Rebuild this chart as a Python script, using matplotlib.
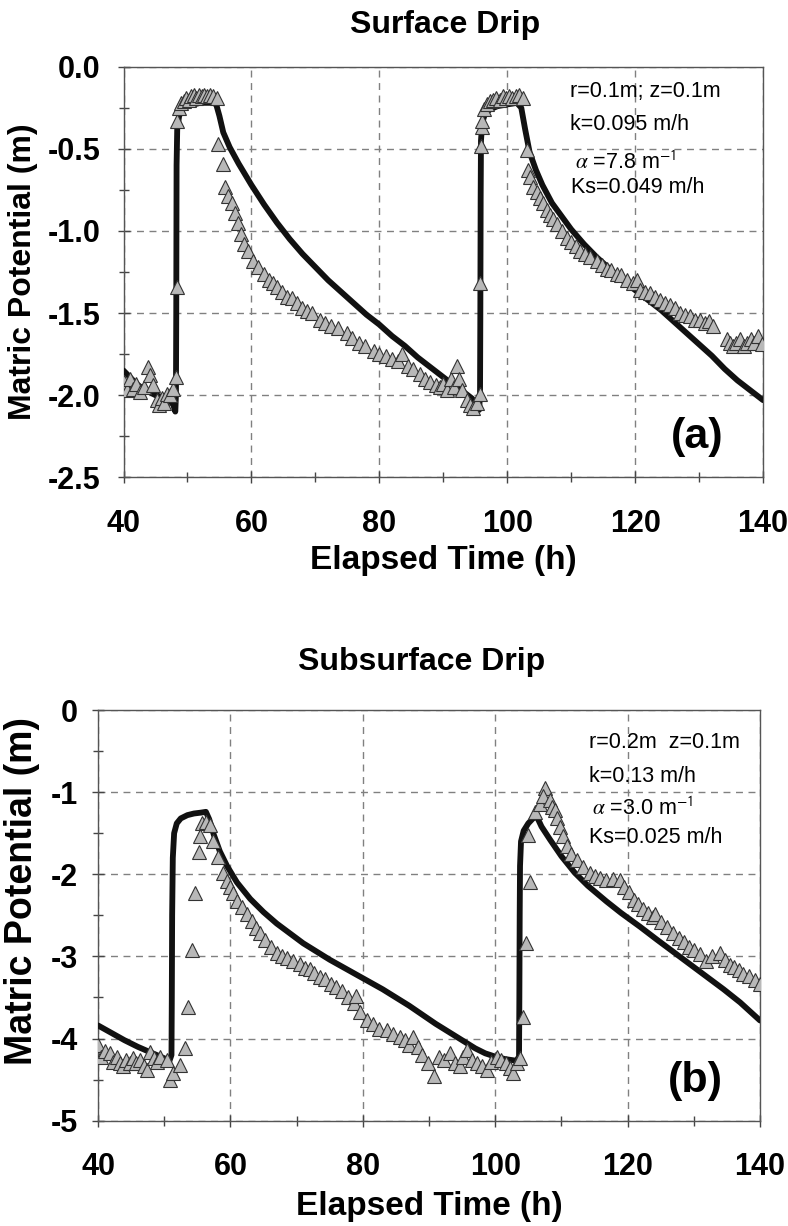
import matplotlib
matplotlib.use("Agg")
import matplotlib.pyplot as plt
from matplotlib.ticker import MultipleLocator, FormatStrFormatter

plt.rcParams.update({
    "font.family": ["Liberation Sans", "DejaVu Sans"],
    "axes.unicode_minus": False,
    "mathtext.fontset": "stix",
})

# ---- (a) Surface drip: measured matric potential (triangles)
surf_obs_t = [40.0, 40.5, 41.0, 41.5, 42.0, 42.6, 43.2, 43.9, 44.2, 44.6, 45.2, 45.6, 46.0, 46.4,
              46.8, 47.3, 47.7, 48.2, 48.3, 48.4, 48.7, 49.0, 49.4, 49.8, 50.2, 50.6, 51.0, 51.4,
              51.8, 52.2, 52.6, 53.0, 53.5, 54.0, 54.6, 54.8, 55.6, 55.9, 56.4, 56.9, 57.4, 57.9,
              58.4, 58.9, 59.5, 60.3, 61.1, 61.9, 62.8, 63.4, 64.0, 64.8, 65.6, 66.3, 67.1, 67.9,
              68.7, 69.5, 70.7, 71.5, 72.5, 73.5, 74.9, 75.8, 76.8, 77.8, 79.1, 80.0, 81.0, 82.0,
              83.0, 83.5, 84.5, 85.3, 86.4, 87.2, 88.0, 88.8, 89.5, 90.0, 90.6, 91.2, 91.7, 92.1,
              92.5, 93.0, 93.7, 94.2, 94.7, 95.2, 95.7, 95.8, 95.9, 96.0, 96.1, 96.4, 96.8, 97.3,
              97.8, 98.3, 98.8, 99.3, 99.8, 100.3, 100.8, 101.3, 101.8, 102.5, 103.1, 103.3, 103.6,
              104.1, 104.6, 105.1, 105.6, 106.2, 106.7, 107.2, 107.8, 108.5, 109.3, 110.0, 110.7,
              111.4, 112.2, 113.0, 114.0, 114.8, 115.6, 116.3, 117.1, 117.8, 118.7, 119.6, 120.3,
              120.8, 121.6, 122.4, 123.1, 123.9, 124.7, 125.5, 126.2, 127.0, 127.8, 128.6, 129.4,
              130.2, 131.0, 131.6, 132.2, 134.3, 134.8, 135.3, 135.8, 136.4, 137.0, 137.5, 138.1,
              138.6, 139.2, 139.8]
surf_obs_h = [-1.92, -1.97, -1.90, -1.96, -1.93, -1.98, -1.95, -1.83, -1.88, -1.94, -2.03, -2.06, -2.02, -2.05,
              -1.99, -2.00, -1.96, -1.89, -1.34, -0.33, -0.25, -0.22, -0.21, -0.19, -0.20, -0.18, -0.17, -0.19,
              -0.17, -0.18, -0.17, -0.18, -0.17, -0.18, -0.19, -0.47, -0.59, -0.73, -0.79, -0.83, -0.89, -0.95,
              -1.02, -1.08, -1.12, -1.18, -1.22, -1.26, -1.30, -1.32, -1.34, -1.37, -1.40, -1.41, -1.44, -1.47,
              -1.49, -1.50, -1.54, -1.56, -1.58, -1.59, -1.62, -1.65, -1.68, -1.70, -1.73, -1.75, -1.76, -1.78,
              -1.79, -1.75, -1.82, -1.84, -1.87, -1.90, -1.92, -1.94, -1.95, -1.93, -1.97, -1.90, -1.95, -1.82,
              -1.90, -1.97, -2.03, -2.06, -2.08, -2.05, -1.99, -1.32, -0.48, -0.37, -0.33, -0.26, -0.23, -0.21,
              -0.20, -0.19, -0.20, -0.18, -0.19, -0.18, -0.19, -0.18, -0.17, -0.19, -0.51, -0.63, -0.67,
              -0.73, -0.76, -0.80, -0.83, -0.87, -0.90, -0.93, -0.96, -1.00, -1.04, -1.07, -1.09,
              -1.12, -1.14, -1.16, -1.18, -1.21, -1.23, -1.24, -1.26, -1.27, -1.30, -1.32, -1.30,
              -1.36, -1.37, -1.38, -1.40, -1.42, -1.44, -1.45, -1.47, -1.50, -1.51, -1.52, -1.54,
              -1.54, -1.56, -1.55, -1.58, -1.66, -1.68, -1.70, -1.68, -1.66, -1.70, -1.68, -1.66,
              -1.68, -1.64, -1.69]

# ---- (a) Surface drip: simulated curve
surf_mod_t = [40, 41, 42, 43, 44, 45, 46, 47, 47.8, 48.1, 48.2, 48.25, 48.3, 48.4, 48.7, 49.2, 50, 51,
              52, 53, 54, 54.5, 55.0, 55.6, 56.6, 58, 60, 62, 64, 66, 68, 70, 72, 74, 76, 78, 80, 82,
              84, 86, 88, 90, 92, 93.5, 94.5, 95.3, 95.6, 95.75, 95.8, 95.85, 95.9, 96.1, 96.5, 97.3,
              98.5, 100, 101.5, 102.2, 102.8, 103.5, 104.5, 105.5, 107, 108.5, 110, 112, 114, 116,
              118, 120, 122, 124, 126, 128, 130, 132, 134, 136, 138, 140]
surf_mod_h = [-1.85, -1.89, -1.93, -1.96, -1.98, -2.00, -2.01, -2.02, -2.06, -2.10, -2.00, -1.50, -0.60,
              -0.38, -0.30, -0.26, -0.24, -0.23, -0.22, -0.22, -0.22, -0.23, -0.30, -0.40, -0.49, -0.59,
              -0.72, -0.84, -0.95, -1.05, -1.14, -1.22, -1.30, -1.37, -1.44, -1.51, -1.57, -1.64, -1.70,
              -1.77, -1.83, -1.89, -1.95, -1.99, -2.02, -2.06, -2.09, -2.00, -1.50, -0.80, -0.45, -0.34,
              -0.29, -0.26, -0.24, -0.23, -0.22, -0.25, -0.38, -0.52, -0.63, -0.72, -0.83, -0.91, -0.99,
              -1.08, -1.16, -1.23, -1.30, -1.36, -1.42, -1.48, -1.55, -1.62, -1.69, -1.76, -1.84, -1.91,
              -1.97, -2.03]

# ---- (b) Subsurface drip: measured
sub_obs_t = [40.0, 40.5, 41.0, 41.8, 42.3, 42.8, 43.3, 43.8, 44.3, 44.8, 45.3, 45.8, 46.3, 46.9, 47.4,
             47.9, 48.4, 48.9, 49.4, 50.4, 50.9, 51.4, 52.4, 53.1, 53.6, 54.2, 54.7, 55.2, 55.4, 55.7,
             56.3, 56.9, 57.4, 58.2, 58.9, 59.5, 60.0, 60.4, 61.0, 61.7, 62.5, 63.2, 63.9, 64.5, 65.3,
             66.1, 67.0, 67.8, 68.6, 69.4, 70.5, 71.3, 72.0, 72.7, 73.5, 74.3, 75.2, 76.0, 76.8, 77.7,
             78.6, 78.9, 79.6, 80.6, 81.5, 82.5, 83.6, 84.5, 85.6, 86.3, 87.0, 87.6, 88.3, 89.0, 89.8,
             90.7, 91.5, 92.3, 93.2, 94.0, 94.7, 95.2, 95.7, 96.5, 97.3, 98.0, 98.7, 99.4, 100.2, 100.9,
             101.6, 102.2, 102.7, 103.3, 103.7, 104.2, 104.7, 105.3, 105.0, 106.0, 106.8, 107.5, 107.2,
             108.3, 108.6, 109.0, 109.4, 109.8, 110.3, 110.8, 111.5, 112.3, 113.3, 114.3, 115.0, 115.8,
             116.8, 117.8, 118.9, 119.5, 120.2, 120.9, 121.6, 122.3, 123.1, 123.9, 124.2, 125.0, 125.9,
             126.9, 127.7, 128.5, 129.3, 130.0, 130.9, 131.9, 132.7, 133.9, 134.7, 135.4, 136.0, 136.8,
             137.5, 138.3, 139.2, 140.0]
sub_obs_h = [-4.08, -4.22, -4.15, -4.18, -4.28, -4.22, -4.30, -4.34, -4.26, -4.30, -4.24, -4.30, -4.26, -4.34, -4.38,
             -4.16, -4.24, -4.28, -4.22, -4.26, -4.51, -4.42, -4.32, -4.12, -3.61, -2.92, -2.23, -1.73, -1.54, -1.38,
             -1.36, -1.40, -1.60, -1.79, -1.99, -2.08, -2.16, -2.23, -2.32, -2.40, -2.48, -2.57, -2.65, -2.72, -2.80,
             -2.88, -2.96, -3.00, -3.02, -3.06, -3.09, -3.14, -3.15, -3.20, -3.25, -3.28, -3.33, -3.37, -3.42, -3.50,
             -3.57, -3.48, -3.68, -3.78, -3.82, -3.88, -3.90, -3.94, -3.98, -4.02, -4.08, -3.98, -4.10, -4.20, -4.30,
             -4.45, -4.22, -4.26, -4.18, -4.30, -4.34, -4.22, -4.14, -4.26, -4.30, -4.34, -4.38, -4.28, -4.22, -4.26,
             -4.30, -4.36, -4.42, -4.30, -4.24, -3.74, -2.84, -2.09, -1.52, -1.24, -1.14, -0.95, -1.05,
             -1.10, -1.18, -1.22, -1.32, -1.42, -1.54, -1.66, -1.75, -1.83, -1.91, -1.99, -2.02, -2.05,
             -2.07, -2.06, -2.07, -2.15, -2.22, -2.31, -2.36, -2.42, -2.47, -2.52, -2.48, -2.58, -2.64,
             -2.72, -2.77, -2.82, -2.88, -2.92, -2.97, -3.05, -3.00, -2.96, -3.04, -3.10, -3.13, -3.16,
             -3.21, -3.24, -3.29, -3.33]

# ---- (b) Subsurface drip: simulated
sub_mod_t = [40, 42, 44, 46, 48, 50, 50.8, 51.1, 51.15, 51.2, 51.3, 51.5, 51.9, 52.5, 53.5, 54.5, 55.5,
             56.3, 56.8, 57.5, 58.4, 59.5, 61, 63, 65, 67, 69, 71, 73, 75, 77, 79, 81, 83, 85, 87, 89,
             91, 93, 95, 97, 98.5, 100, 101.5, 103.2, 103.6, 103.65, 103.7, 103.75, 103.9, 104.3, 105,
             105.7, 106.3, 107, 108.3, 110, 112, 114, 116.8, 119, 121.9, 124.5, 127, 129.5, 132, 134.5,
             137, 140]
sub_mod_h = [-3.84, -3.93, -4.02, -4.10, -4.17, -4.24, -4.27, -4.20, -3.50, -2.50, -1.80, -1.50, -1.38, -1.32,
             -1.28, -1.26, -1.25, -1.24, -1.33, -1.52, -1.72, -1.90, -2.10, -2.30, -2.46, -2.60, -2.72, -2.84,
             -2.94, -3.04, -3.13, -3.22, -3.31, -3.40, -3.50, -3.60, -3.71, -3.82, -3.92, -4.02, -4.12, -4.18,
             -4.22, -4.25, -4.27, -4.22, -3.50, -2.50, -1.90, -1.60, -1.47, -1.38, -1.32, -1.30, -1.42, -1.58,
             -1.78, -1.98, -2.14, -2.33, -2.47, -2.64, -2.80, -2.95, -3.10, -3.25, -3.40, -3.56, -3.78]

surf_params = ["r=0.1m; z=0.1m", "k=0.095 m/h", r"$\alpha$ =7.8 m$^{\mathsf{-1}}$", "Ks=0.049 m/h"]
sub_params = ["r=0.2m  z=0.1m", "k=0.13 m/h", r"$\alpha$ =3.0 m$^{\mathsf{-1}}$", "Ks=0.025 m/h"]

W, H = 788, 1226
fig = plt.figure(figsize=(W / 100, H / 100), dpi=100)


def style_axes(ax, ylim, ymaj, ymin, yfmt, ytick_pad):
    ax.set_xlim(40, 140)
    ax.set_ylim(*ylim)
    ax.xaxis.set_major_locator(MultipleLocator(20))
    ax.xaxis.set_minor_locator(MultipleLocator(10))
    ax.yaxis.set_major_locator(MultipleLocator(ymaj))
    ax.yaxis.set_minor_locator(MultipleLocator(ymin))
    ax.yaxis.set_major_formatter(FormatStrFormatter(yfmt))
    ax.grid(True, which="major", color="#808080", linestyle=(0, (5, 4)), linewidth=1.0)
    for sp in ax.spines.values():
        sp.set_color("#555555")
        sp.set_linewidth(1.0)
    ax.tick_params(which="major", direction="inout", length=9, width=1, color="#444444",
                   labelsize=22)
    ax.tick_params(which="minor", direction="inout", length=7, width=1, color="#444444")
    ax.tick_params(axis="x", which="major", pad=18)
    ax.tick_params(axis="y", which="major", pad=ytick_pad)
    for lab in ax.get_xticklabels() + ax.get_yticklabels():
        lab.set_fontweight("bold")


def draw(ax, obs_t, obs_h, mod_t, mod_h):
    ax.plot(mod_t, mod_h, color="#111111", linewidth=4.2, zorder=3, solid_capstyle="round",
            solid_joinstyle="round")
    ax.plot(obs_t, obs_h, linestyle="none", marker="^", markersize=9.5, markerfacecolor="#b8b8b8",
            markeredgecolor="#333333", markeredgewidth=0.8, zorder=4)


# top panel
ax1 = fig.add_axes([123.5 / W, 1 - 477.3 / H, (763 - 123.5) / W, (477.3 - 66.7) / H])
draw(ax1, surf_obs_t, surf_obs_h, surf_mod_t, surf_mod_h)
style_axes(ax1, (-2.5, 0.0), 0.5, 0.25, "%.1f", 12)
ax1.set_xlabel("Elapsed Time (h)", fontsize=24, fontweight="bold")
ax1.xaxis.set_label_coords(0.5, (477.3 - 560) / 410.6)
ax1.xaxis.label.set_va("center")
ax1.set_ylabel("Matric Potential (m)", fontsize=23, fontweight="bold")
ax1.yaxis.set_label_coords((23 - 123.5) / 639.5, 0.5)
ax1.yaxis.label.set_va("center")
for txt, x, y in zip(surf_params, [0.698, 0.698, 0.706, 0.700], [0.927, 0.846, 0.752, 0.692]):
    ax1.text(x, y, txt, transform=ax1.transAxes, fontsize=15.5, va="baseline", ha="left", zorder=5)
ax1.text(0.897, 0.098, "(a)", transform=ax1.transAxes, fontsize=31, fontweight="bold",
         ha="center", va="center")
fig.text(445 / W, 1 - 25 / H, "Surface Drip", fontsize=23, fontweight="bold", ha="center", va="center")

# bottom panel
ax2 = fig.add_axes([98 / W, 1 - 1120.7 / H, (760 - 98) / W, (1120.7 - 710) / H])
draw(ax2, sub_obs_t, sub_obs_h, sub_mod_t, sub_mod_h)
style_axes(ax2, (-5, 0), 1, 0.5, "%d", 10)
ax2.set_xlabel("Elapsed Time (h)", fontsize=24, fontweight="bold")
ax2.xaxis.set_label_coords(0.5, (1120.7 - 1207) / 410.7)
ax2.xaxis.label.set_va("center")
ax2.set_ylabel("Matric Potential (m)", fontsize=27, fontweight="bold")
ax2.yaxis.set_label_coords((22 - 98) / 662, 0.559)
ax2.yaxis.label.set_va("center")
for txt, x, y in zip(sub_params, [0.741, 0.741, 0.746, 0.741], [0.907, 0.825, 0.744, 0.675]):
    ax2.text(x, y, txt, transform=ax2.transAxes, fontsize=15.5, va="baseline", ha="left", zorder=5)
ax2.text(0.902, 0.097, "(b)", transform=ax2.transAxes, fontsize=31, fontweight="bold",
         ha="center", va="center")
fig.text(422 / W, 1 - 662 / H, "Subsurface Drip", fontsize=23, fontweight="bold", ha="center", va="center")

fig.savefig("out.png", dpi=100)
